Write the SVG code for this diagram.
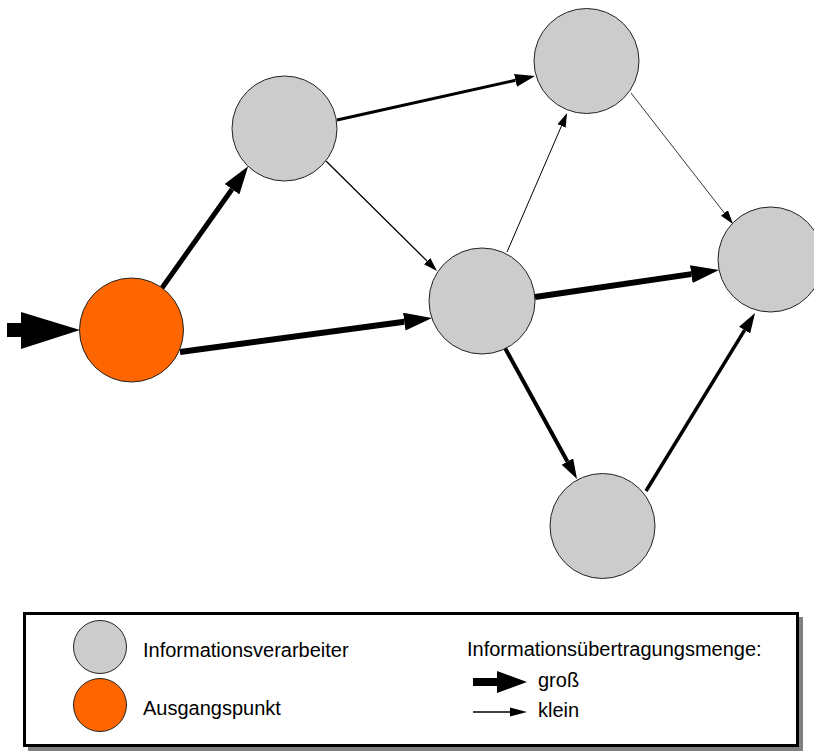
<svg xmlns="http://www.w3.org/2000/svg" width="814" height="751" viewBox="0 0 814 751">
<style>
.proc{fill:#cccccc;stroke:#222;stroke-width:1}
.start{fill:#ff6600;stroke:#222;stroke-width:1}
.edge{stroke:#000;fill:none;stroke-linecap:butt}
.lbl{font-family:"Liberation Sans",Arial,sans-serif;font-size:20px;fill:#000}
</style>
<defs>
<marker id="big" markerUnits="userSpaceOnUse" viewBox="0 -9 28 18" refX="0" refY="0" markerWidth="28" markerHeight="18" orient="auto"><path d="M0,-9 L28,0 L0,9 z" fill="#000"/></marker>
<marker id="mid" markerUnits="userSpaceOnUse" viewBox="0 -6.5 20 13" refX="0" refY="0" markerWidth="20" markerHeight="13" orient="auto"><path d="M0,-6.5 L20,0 L0,6.5 z" fill="#000"/></marker>
<marker id="small" markerUnits="userSpaceOnUse" viewBox="0 -4.5 14 9" refX="0" refY="0" markerWidth="14" markerHeight="9" orient="auto"><path d="M0,-4.5 L14,0 L0,4.5 z" fill="#000"/></marker>
</defs>
<rect width="814" height="751" fill="#fff"/>
<g id="connectors">
<polygon points="7,323 21,323 21,312 80,330 21,349 21,337 7,337" fill="#000"/>
<line class="edge" x1="162" y1="288" x2="232" y2="189.2" stroke-width="5" marker-end="url(#big)"/>
<line class="edge" x1="180" y1="352" x2="404.3" y2="321.7" stroke-width="6" marker-end="url(#big)"/>
<line class="edge" x1="337" y1="120" x2="515.5" y2="80.3" stroke-width="3" marker-end="url(#mid)"/>
<line class="edge" x1="326" y1="161" x2="427.1" y2="261.1" stroke-width="1.3" marker-end="url(#small)"/>
<line class="edge" x1="507" y1="252" x2="561.5" y2="125.9" stroke-width="1" marker-end="url(#small)"/>
<line class="edge" x1="631" y1="93" x2="724.4" y2="213" stroke-width="0.8" marker-end="url(#small)"/>
<line class="edge" x1="535" y1="297" x2="691.3" y2="274.1" stroke-width="6" marker-end="url(#big)"/>
<line class="edge" x1="505" y1="348" x2="567.4" y2="461.5" stroke-width="4" marker-end="url(#mid)"/>
<line class="edge" x1="646" y1="491" x2="744.6" y2="330.1" stroke-width="3.5" marker-end="url(#mid)"/>
</g>
<g id="start"><circle class="start" cx="131.5" cy="330" r="52"/></g>
<g id="nodeA"><circle class="proc" cx="284.5" cy="128.5" r="52.5"/></g>
<g id="nodeB"><circle class="proc" cx="586.5" cy="61" r="52.5"/></g>
<g id="nodeC"><circle class="proc" cx="482" cy="301" r="53"/></g>
<g id="nodeD"><circle class="proc" cx="770.5" cy="259.5" r="52.5"/></g>
<g id="nodeE"><circle class="proc" cx="602.5" cy="526" r="52.5"/></g>
<g id="legend">
<rect x="28" y="617" width="775" height="134" fill="#808080"/>
<rect x="24.5" y="613.5" width="773" height="132" fill="#fff" stroke="#000" stroke-width="3"/>
<circle class="proc" cx="100" cy="647" r="26.5"/>
<circle class="start" cx="100" cy="705" r="26.5"/>
<text class="lbl" x="143" y="657">Informationsverarbeiter</text>
<text class="lbl" x="143" y="715">Ausgangspunkt</text>
<text class="lbl" x="467" y="656">Informationsübertragungsmenge:</text>
<polygon points="473,678 497,678 497,671 527,682 497,693 497,686 473,686" fill="#000"/>
<text class="lbl" x="538" y="687">groß</text>
<line x1="473" y1="712" x2="512" y2="712" stroke="#000" stroke-width="1.5"/>
<polygon points="510,707.5 527,712 510,716.5" fill="#000"/>
<text class="lbl" x="538" y="717">klein</text>
</g>
</svg>
